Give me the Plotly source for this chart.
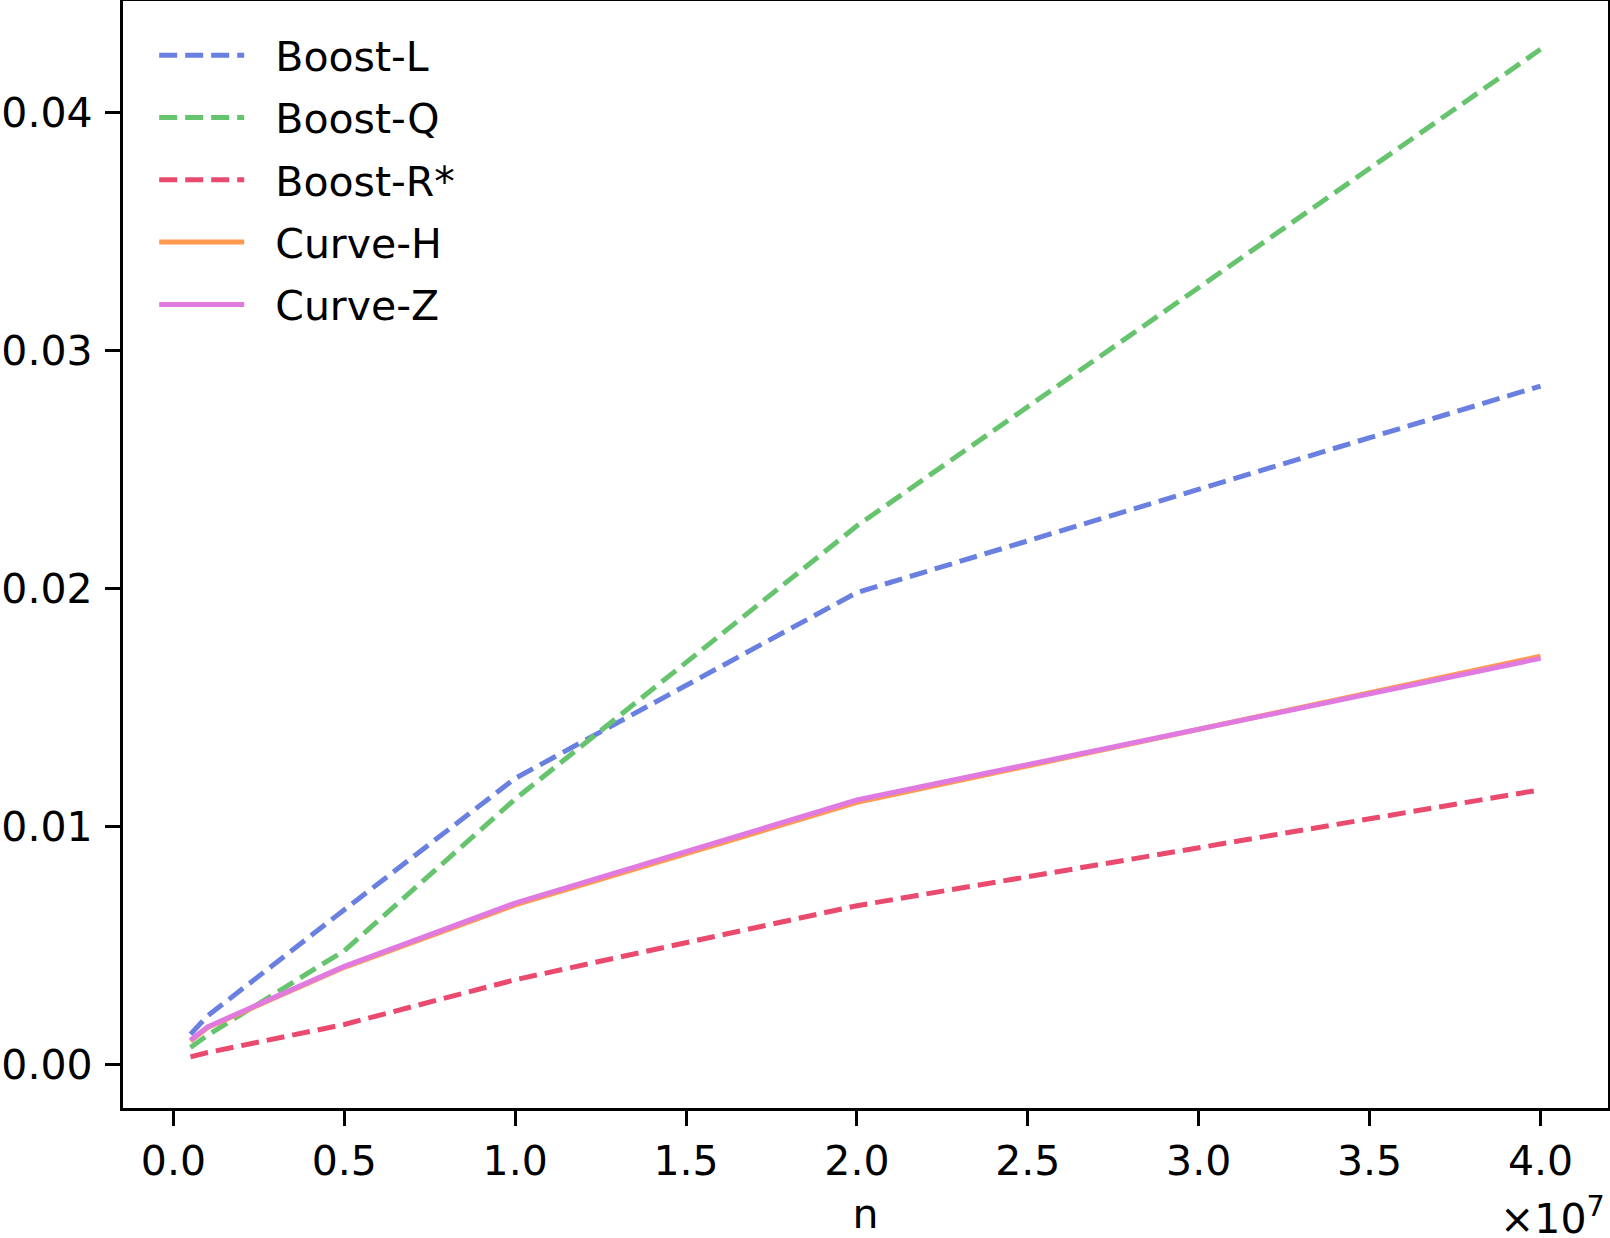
import plotly.graph_objects as go

n_values = [5e5, 1e6, 5e6, 1e7, 2e7, 4e7]
boost_l = [0.00129, 0.00206, 0.00652, 0.01204, 0.01985, 0.02852]
boost_q = [0.00073, 0.00125, 0.00480, 0.01117, 0.02265, 0.04267]
boost_r = [0.00034, 0.00052, 0.00170, 0.00358, 0.00669, 0.01156]
curve_h = [0.00100, 0.00157, 0.00410, 0.00672, 0.01103, 0.01717]
curve_z = [0.00104, 0.00160, 0.00414, 0.00680, 0.01113, 0.01708]

x_tickvals = [0, 5e6, 1e7, 1.5e7, 2e7, 2.5e7, 3e7, 3.5e7, 4e7]
x_ticktext = ["0.0", "0.5", "1.0", "1.5", "2.0", "2.5", "3.0", "3.5", "4.0"]
y_tickvals = [0.0, 0.01, 0.02, 0.03, 0.04]
y_ticktext = ["0.00", "0.01", "0.02", "0.03", "0.04"]

series = [
    ("Boost-L", boost_l, "#6a80e0", "18px,8px"),
    ("Boost-Q", boost_q, "#66c46e", "18px,8px"),
    ("Boost-R*", boost_r, "#e94a6e", "18px,8px"),
    ("Curve-H", curve_h, "#ff9a50", "solid"),
    ("Curve-Z", curve_z, "#e07ae0", "solid"),
]

FONT = "DejaVu Sans"
PAD = "\u00a0\u00a0"
fig = go.Figure()
for name, vals, color, dash in series:
    fig.add_trace(go.Scatter(
        x=n_values, y=vals, mode="lines", name=PAD + name, legendgroup=name,
        line=dict(color=color, width=5, dash=dash),
    ))

fig.update_layout(
    width=1610, height=1238,
    margin=dict(l=123, r=2, t=1, b=130, autoexpand=False),
    paper_bgcolor="white", plot_bgcolor="white",
    font=dict(family=FONT, size=41, color="black"),
    showlegend=True,
    legend=dict(
        x=0.021, y=0.981, xanchor="left", yanchor="top",
        bgcolor="rgba(0,0,0,0)", borderwidth=0,
        font=dict(family=FONT, size=41, color="black"),
        itemwidth=85, tracegroupgap=6,
    ),
    xaxis=dict(
        range=[-0.1475e7, 4.1975e7],
        tickvals=x_tickvals, ticktext=x_ticktext,
        showgrid=False, zeroline=False,
        showline=True, linecolor="black", linewidth=3.3, mirror=True,
        ticks="outside", ticklen=15, tickwidth=3.3, tickcolor="black",
        tickfont=dict(family=FONT, size=41),
        title=dict(text="n", font=dict(family=FONT, size=41), standoff=17),
    ),
    yaxis=dict(
        range=[-0.00181, 0.04470],
        tickvals=y_tickvals, ticktext=y_ticktext,
        showgrid=False, zeroline=False,
        showline=True, linecolor="black", linewidth=3.3, mirror=True,
        ticks="outside", ticklen=15, tickwidth=3.3, tickcolor="black",
        tickfont=dict(family=FONT, size=41), ticklabelstandoff=4,
    ),
    annotations=[dict(
        text="×10<sup>7</sup>", xref="paper", yref="paper",
        x=1.0, y=-0.071, xanchor="right", yanchor="top", xshift=-1,
        showarrow=False, font=dict(family=FONT, size=41),
    )],
)

fig.write_html("out.html")
